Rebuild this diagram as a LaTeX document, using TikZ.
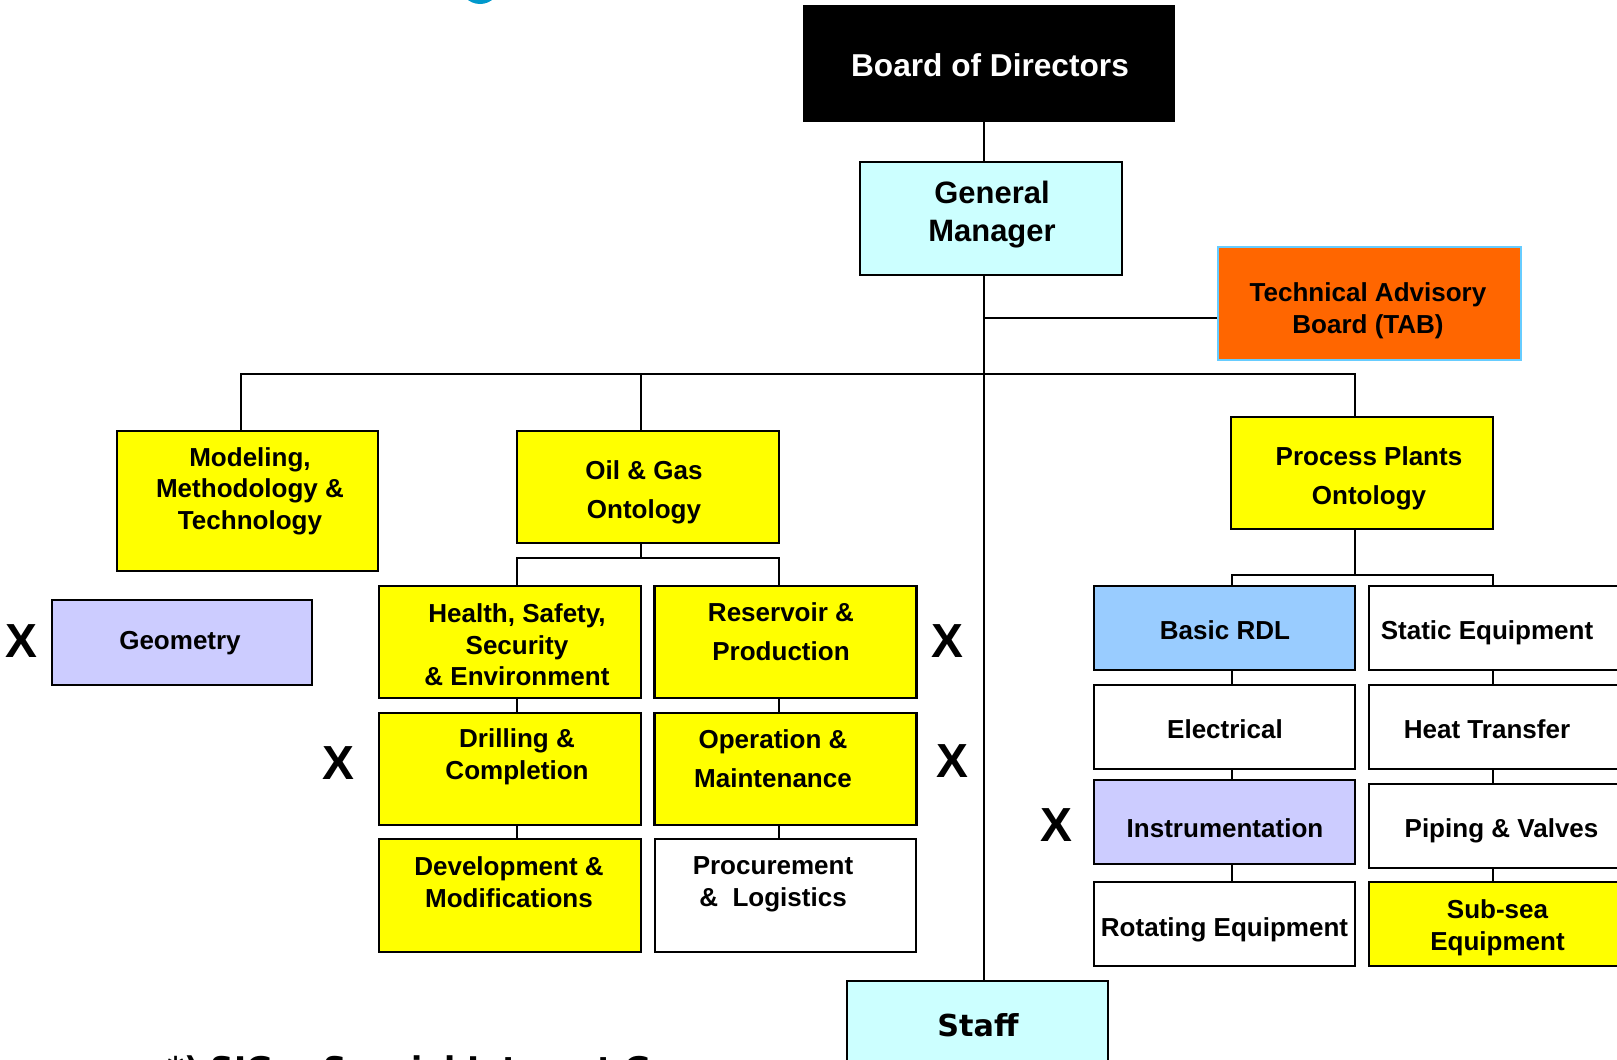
\documentclass[tikz,border=0pt]{standalone}
\usepackage{fontspec}
\setmainfont{Liberation Sans}
\newfontfamily\verdanafont{DejaVu Sans}
\definecolor{boxyellow}{HTML}{FFFF00}
\definecolor{boxcyan}{HTML}{CCFFFF}
\definecolor{taborange}{HTML}{FF6600}
\definecolor{tabedge}{HTML}{66CCFF}
\definecolor{boxlilac}{HTML}{CCCCFF}
\definecolor{rdlblue}{HTML}{99CCFF}
\definecolor{dotblue}{HTML}{0099CC}

\begin{document}
\begin{tikzpicture}[x=0.025cm,y=-0.025cm,
    wh/.style 2 args={minimum width=#1*0.025cm,minimum height=#2*0.025cm},
    orgbox/.style={draw=black,line width=1.8pt,inner sep=0pt},
    ybox/.style={orgbox,fill=boxyellow,wh={262}{112}},
    sbox/.style={orgbox,fill=white,wh={261}{84}},
    boxtext/.style={inner sep=0pt,align=center,font=\bfseries\fontsize{18.5}{22.5}\selectfont},
    widetext/.style={font=\bfseries\fontsize{18.5}{27.5}\selectfont},
    wire/.style={line width=1.3pt},
    xmark/.style={inner sep=0pt,font=\bfseries\fontsize{34}{34}\selectfont}]
        \useasboundingbox (0,0) rectangle (1617,1059);
        \clip (0,0) rectangle (1617,1059);
        \fill[dotblue] (480,-16) circle[radius=20];

        % top of the chart
        \node[orgbox,fill=black,wh={370}{115}] (bod) at (989,63.5) {};
        \node[boxtext,text=white,font=\bfseries\fontsize{22.5}{27}\selectfont] (bodtext) at (990,65) {Board of Directors};
        \node[orgbox,fill=boxcyan,wh={262}{113}] (gm) at (991,218.5) {};
        \node[boxtext,font=\bfseries\fontsize{22}{27}\selectfont] (gmtext) at (992,215) {General\\Manager};
        \node[orgbox,fill=taborange,draw=tabedge,wh={303}{113}] (tab) at (1369.5,303.5) {};
        \node[boxtext] (tabtext) at (1368,311) {Technical Advisory\\Board (TAB)};
        \node[orgbox,fill=boxcyan,wh={261}{130}] (staff) at (977.5,1046) {};
        \node[inner sep=0pt,font=\verdanafont\bfseries\fontsize{21.5}{26}\selectfont] (stafftext) at (978,1025) {Staff};

        % main groups
        \node[orgbox,fill=boxyellow,wh={261}{140}] (mmt) at (247.5,501) {};
        \node[boxtext] (mmttext) at (250,491) {Modeling,\\Methodology \&\\Technology};
        \node[ybox] (ogo) at (648,487) {};
        \node[boxtext,widetext] (ogotext) at (644,492) {Oil \& Gas\\Ontology};
        \node[ybox] (ppo) at (1362,473) {};
        \node[boxtext,widetext] (ppotext) at (1369,478) {Process Plants\\Ontology};
        \node[orgbox,fill=boxlilac,wh={260}{85}] (geom) at (182,642.5) {};
        \node[boxtext] (geomtext) at (180,643.5) {Geometry};

        % oil and gas
        \node[ybox] (hsse) at (510,642) {};
        \node[boxtext] (hssetext) at (517,645) {Health, Safety,\\Security\\\& Environment};
        \node[ybox] (resv) at (785.5,642) {};
        \node[boxtext,widetext] (resvtext) at (781,632) {Reservoir \&\\Production};
        \node[ybox] (drill) at (510,769) {};
        \node[boxtext] (drilltext) at (517,757) {Drilling \&\\Completion};
        \node[ybox] (opm) at (785.5,769) {};
        \node[boxtext,widetext] (opmtext) at (773,759) {Operation \&\\Maintenance};
        \node[ybox,wh={262}{113}] (devm) at (510,895.5) {};
        \node[boxtext] (devmtext) at (509,882) {Development \&\\Modifications};
        \node[orgbox,fill=white,wh={261}{113}] (proc) at (785.5,895.5) {};
        \node[boxtext] (proctext) at (773,884.5) {Procurement\\\&~~Logistics};

        % process plants
        \node[sbox,fill=rdlblue] (rdl) at (1224.5,628) {};
        \node[boxtext] (rdltext) at (1225,630) {Basic RDL};
        \node[sbox] (stat) at (1499.5,628) {};
        \node[boxtext] (stattext) at (1487,633) {Static Equipment};
        \node[sbox] (elec) at (1224.5,727) {};
        \node[boxtext] (electext) at (1225,729) {Electrical};
        \node[sbox] (heat) at (1499.5,727) {};
        \node[boxtext] (heattext) at (1487,729) {Heat Transfer};
        \node[sbox,fill=boxlilac] (inst) at (1224.5,822) {};
        \node[boxtext] (insttext) at (1225,828) {Instrumentation};
        \node[sbox] (pipe) at (1499.5,826) {};
        \node[boxtext] (pipetext) at (1501.5,831) {Piping \& Valves};
        \node[sbox] (rot) at (1224.5,924) {};
        \node[boxtext] (rottext) at (1224.5,930) {Rotating Equipment};
        \node[sbox,fill=boxyellow] (subsea) at (1499.5,924) {};
        \node[boxtext] (subseatext) at (1497.5,928) {Sub-sea\\Equipment};

        \foreach \xx/\yy [count=\i] in {21/641,338/763,947/641,952/761,1056/825}{
            \node[xmark] (xmark\i) at (\xx,\yy) {X};
        }

        % connectors
        \coordinate (spine) at (984,318);
        \coordinate (busw) at (241,374);
        \coordinate (buse) at (1355,374);
        \coordinate (ogbus) at (641,558);
        \coordinate (lcol) at (517,0);
        \coordinate (rcol) at (779,0);
        \coordinate (ppbus) at (1355,575);
        \coordinate (plcol) at (1232,0);
        \coordinate (prcol) at (1493,0);
        \draw[wire] (spine |- bod.south) -- (spine |- gm.north);
        \draw[wire] (spine |- gm.south) -- (spine |- staff.north);
        \draw[wire] (spine) -- (spine -| tab.west);
        \draw[wire] (mmt.north -| busw) |- (buse) -- (buse |- ppo.north);
        \draw[wire] (ogo.north -| ogbus) -- (ogbus |- busw);
        \draw[wire] (ogo.south -| ogbus) -- (ogbus);
        \draw[wire] (hsse.north -| lcol) |- (ogbus) -| (resv.north -| rcol);
        \foreach \a/\b in {hsse/drill,drill/devm}
            \draw[wire] (\a.south -| lcol) -- (\b.north -| lcol);
        \foreach \a/\b in {resv/opm,opm/proc}
            \draw[wire] (\a.south -| rcol) -- (\b.north -| rcol);
        \draw[wire] (ppo.south -| ppbus) -- (ppbus);
        \draw[wire] (rdl.north -| plcol) |- (ppbus) -| (stat.north -| prcol);
        \foreach \a/\b in {rdl/elec,elec/inst,inst/rot}
            \draw[wire] (\a.south -| plcol) -- (\b.north -| plcol);
        \foreach \a/\b in {stat/heat,heat/pipe,pipe/subsea}
            \draw[wire] (\a.south -| prcol) -- (\b.north -| prcol);

        \node[anchor=base west,inner sep=0pt,font=\verdanafont\bfseries\fontsize{23.2}{28}\selectfont]
          (sigtext) at (167,1080) {*) SIG = Special Interest Group};
\end{tikzpicture}
\end{document}
